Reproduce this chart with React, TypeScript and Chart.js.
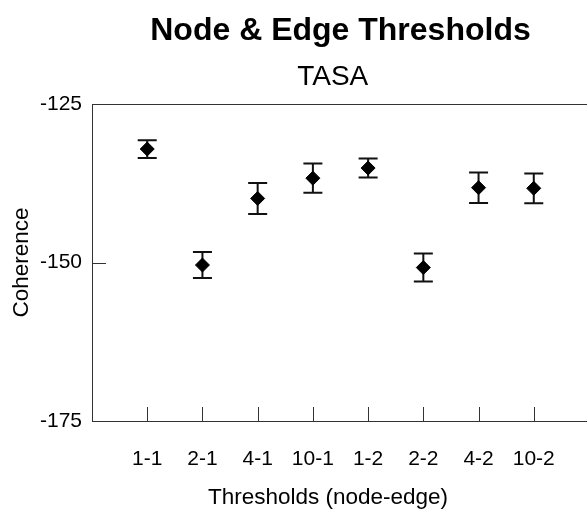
import React, { useEffect, useRef } from 'react';
import { Chart, registerables } from 'chart.js';

Chart.register(...registerables);

const categories = ['1-1', '2-1', '4-1', '10-1', '1-2', '2-2', '4-2', '10-2'];
const means = [-132.1, -150.4, -139.9, -136.7, -135.1, -150.8, -138.2, -138.3];
const errors = [1.4, 2.05, 2.45, 2.3, 1.5, 2.2, 2.4, 2.35];
const yTicks = [-175, -150, -125];

const FONT = "'Liberation Sans', Arial, sans-serif";

export default function App() {
  const ref = useRef<HTMLCanvasElement>(null);

  useEffect(() => {
    const canvas = ref.current;
    if (!canvas) return;

    const errorBars = {
      id: 'errorBars',
      beforeDatasetsDraw(chart: any) {
        const { ctx, scales } = chart;
        const x = scales.x;
        const y = scales.y;
        ctx.save();
        ctx.strokeStyle = '#111';
        ctx.lineWidth = 2;
        means.forEach((m, i) => {
          const px = x.getPixelForValue(i + 1);
          const top = y.getPixelForValue(m + errors[i]);
          const bot = y.getPixelForValue(m - errors[i]);
          ctx.beginPath();
          ctx.moveTo(px, top);
          ctx.lineTo(px, bot);
          ctx.moveTo(px - 9.5, top);
          ctx.lineTo(px + 9.5, top);
          ctx.moveTo(px - 9.5, bot);
          ctx.lineTo(px + 9.5, bot);
          ctx.stroke();
        });
        ctx.restore();
      },
    };

    const frame = {
      id: 'frame',
      beforeDatasetsDraw(chart: any) {
        const { ctx, chartArea: a, scales } = chart;
        const x = scales.x;
        const y = scales.y;
        ctx.save();
        ctx.strokeStyle = '#333';
        ctx.lineWidth = 1;
        ctx.strokeRect(a.left + 0.5, a.top + 0.5, a.right - a.left, a.bottom - a.top);
        ctx.beginPath();
        categories.forEach((_, i) => {
          const px = Math.round(x.getPixelForValue(i + 1)) + 0.5;
          ctx.moveTo(px, a.bottom);
          ctx.lineTo(px, a.bottom - 14);
        });
        yTicks.forEach((v) => {
          const py = Math.round(y.getPixelForValue(v)) + 0.5;
          ctx.moveTo(a.left, py);
          ctx.lineTo(a.left + 14, py);
        });
        ctx.stroke();
        ctx.restore();
      },
    };

    Chart.defaults.font.family = FONT;
    Chart.defaults.color = '#000';

    const chart = new Chart(canvas, {
      type: 'scatter',
      data: {
        datasets: [
          {
            data: means.map((m, i) => ({ x: i + 1, y: m })),
            pointStyle: 'rectRot',
            pointRadius: 7,
            pointHoverRadius: 7,
            borderWidth: 1,
            backgroundColor: '#000',
            borderColor: '#000',
          },
        ],
      },
      options: {
        animation: false,
        responsive: false,
        layout: { padding: { left: 0, right: 11, top: 0, bottom: 0 } },
        plugins: {
          legend: { display: false },
          tooltip: { enabled: false },
          title: {
            display: true,
            text: 'Node & Edge Thresholds',
            fullSize: false,
            color: '#000',
            font: { size: 32, weight: 'bold', lineHeight: 1, family: FONT },
            padding: { top: 15, bottom: 0 },
          },
          subtitle: {
            display: true,
            text: 'TASA  ',
            fullSize: false,
            color: '#000',
            font: { size: 28, lineHeight: 1, family: FONT },
            padding: { top: 16, bottom: 13 },
          },
        },
        scales: {
          x: {
            type: 'linear',
            min: 0,
            max: 9,
            grid: { display: false, drawTicks: false, tickLength: 0 },
            border: { display: false },
            ticks: {
              stepSize: 1,
              autoSkip: false,
              maxRotation: 0,
              padding: 28,
              color: '#000',
              font: { size: 21, lineHeight: 1, family: FONT },
              callback: (v: any) => categories[Number(v) - 1] ?? '',
            },
            title: {
              display: true,
              text: 'Thresholds (node-edge)    ',
              color: '#000',
              font: { size: 22.5, lineHeight: 1, family: FONT },
              padding: { top: 0, bottom: 4 },
            },
            afterFit(s: any) {
              s.height = 92;
              s.paddingLeft = 0;
              s.paddingRight = 0;
            },
          },
          y: {
            min: -175,
            max: -125,
            grid: { display: false, drawTicks: false, tickLength: 0 },
            border: { display: false },
            ticks: {
              stepSize: 25,
              padding: 10,
              color: '#000',
              font: { size: 21, lineHeight: 1, family: FONT },
            },
            title: {
              display: true,
              text: 'Coherence',
              color: '#000',
              font: { size: 22.5, lineHeight: 1, family: FONT },
              padding: { top: 11, bottom: 0 },
            },
            afterFit(s: any) {
              s.width = 92;
              s.paddingTop = 0;
              s.paddingBottom = 0;
            },
          },
        },
      },
      plugins: [frame, errorBars],
    });

    return () => chart.destroy();
  }, []);

  return (
    <div
      style={{
        position: 'fixed',
        left: 0,
        top: 0,
        width: 587,
        height: 513,
        overflow: 'hidden',
        background: '#fff',
      }}
    >
      <canvas ref={ref} width={600} height={513} style={{ width: 600, height: 513, display: 'block' }} />
    </div>
  );
}
